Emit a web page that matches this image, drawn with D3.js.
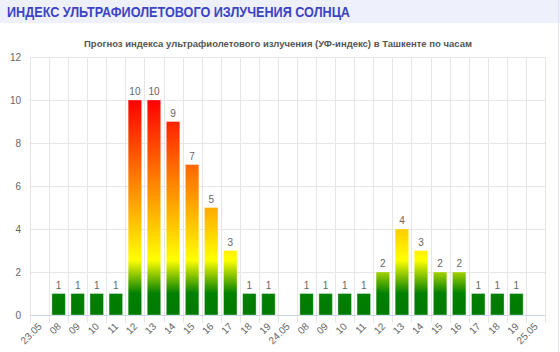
<!DOCTYPE html>
<html>
<head>
<meta charset="utf-8">
<script src="https://cdn.jsdelivr.net/npm/d3@7"></script>
<style>
  body { margin: 0; background: #fff; }
  svg { display: block; font-family: "Liberation Sans", Arial, sans-serif; }
</style>
</head>
<body>
<div id="chart"></div>
<script>
// categories (hour labels, with day separators)
const categories = ['23.05', '08', '09', '10', '11', '12', '13', '14', '15', '16', '17', '18', '19',
                    '24.05', '08', '09', '10', '11', '12', '13', '14', '15', '16', '17', '18', '19', '25.05']
// UV index per hour (null where the day label sits)
const uvValues = [null, 1, 1, 1, 1, 10, 10, 9, 7, 5, 3, 1, 1,
                  null, 1, 1, 1, 1, 2, 4, 3, 2, 2, 1, 1, 1, null]
const yTicks = [0, 2, 4, 6, 8, 10, 12]

const headerTitle = 'ИНДЕКС УЛЬТРАФИОЛЕТОВОГО ИЗЛУЧЕНИЯ СОЛНЦА'
const chartTitle = 'Прогноз индекса ультрафиолетового излучения (УФ-индекс) в Ташкенте по часам'

const width = 560, height = 352
const margin = {top: 57, right: 15, bottom: 37, left: 30}

const svg = d3.select('#chart').append('svg')
    .attr('width', width)
    .attr('height', height)

// header band
svg.append('rect')
    .attr('x', 0).attr('y', 0)
    .attr('width', width).attr('height', 23)
    .attr('fill', '#eef0fb')
svg.append('line')
    .attr('x1', 558.5).attr('x2', 558.5)
    .attr('y1', 0).attr('y2', height)
    .attr('stroke', '#dfe3f5')
svg.append('text')
    .attr('x', 7).attr('y', 17)
    .attr('font-size', 14)
    .attr('font-weight', 'bold')
    .attr('fill', '#3b45c3')
    .attr('textLength', 343)
    .attr('lengthAdjust', 'spacingAndGlyphs')
    .text(headerTitle)

svg.append('text')
    .attr('x', 278).attr('y', 47)
    .attr('text-anchor', 'middle')
    .attr('font-size', 9.5)
    .attr('font-weight', 'bold')
    .attr('fill', '#555')
    .text(chartTitle)

const innerH = height - margin.top - margin.bottom
const g = svg.append('g').attr('transform', `translate(${margin.left},${margin.top})`)

//scales
const xScale = d3.scaleBand()
    .domain(d3.range(categories.length))
    .range([0, width - margin.left - margin.right])
    .paddingInner(0)
const yScale = d3.scaleLinear()
    .domain([0, 12])
    .range([innerH, 0])

// gradient by value, in the bars' user space so colour depends on height
const grad = svg.append('defs').append('linearGradient')
    .attr('id', 'uvGrad')
    .attr('gradientUnits', 'userSpaceOnUse')
    .attr('x1', 0).attr('x2', 0)
    .attr('y1', yScale(0)).attr('y2', yScale(10))
const stops = [[0, '#007a00'], [1, '#008000'], [2.55, '#ffff00'], [5, '#ffaa00'], [7, '#ff6600'], [9, '#ff2200'], [10, '#ff0000']]
stops.forEach(s => grad.append('stop').attr('offset', s[0] / 10).attr('stop-color', s[1]))

// grid lines
g.append('g').selectAll('line.h')
    .data(yTicks.filter(d => d > 0))
    .join('line')
    .attr('x1', 0).attr('x2', xScale.range()[1])
    .attr('y1', d => Math.round(yScale(d)) + 0.5).attr('y2', d => Math.round(yScale(d)) + 0.5)
    .attr('stroke', '#e6e6e6')

const bounds = d3.range(categories.length + 1).map(i => i < categories.length ? xScale(i) : xScale.range()[1])
g.append('g').selectAll('line.v')
    .data(bounds)
    .join('line')
    .attr('x1', d => Math.round(d) + 0.5).attr('x2', d => Math.round(d) + 0.5)
    .attr('y1', 0).attr('y2', innerH + 8)
    .attr('stroke', '#e6e6e6')

// baseline
g.append('line')
    .attr('x1', 0).attr('x2', xScale.range()[1])
    .attr('y1', Math.round(yScale(0)) + 0.5).attr('y2', Math.round(yScale(0)) + 0.5)
    .attr('stroke', '#ccd6eb')

// y labels
g.append('g').selectAll('text')
    .data(yTicks)
    .join('text')
    .attr('x', -9)
    .attr('y', d => yScale(d) + 3.5)
    .attr('text-anchor', 'end')
    .attr('font-size', 10)
    .attr('fill', '#666')
    .text(d => d)

// x labels
g.append('g').selectAll('text')
    .data(categories)
    .join('text')
    .attr('transform', (d, i) => `translate(${xScale(i) + xScale.bandwidth() / 2 + 3},${innerH + 12}) rotate(-45)`)
    .attr('text-anchor', 'end')
    .attr('font-size', 10)
    .attr('fill', '#666')
    .text(d => d)

// bars
const barW = 13.5
const barData = uvValues.map((v, i) => ({i, v})).filter(d => d.v != null)
g.append('g').selectAll('rect')
    .data(barData)
    .join('rect')
    .attr('x', d => xScale(d.i) + (xScale.bandwidth() - barW) / 2)
    .attr('y', d => yScale(d.v))
    .attr('width', barW)
    .attr('height', d => yScale(0) - yScale(d.v))
    .attr('fill', 'url(#uvGrad)')
    .attr('stroke', 'rgba(255,255,255,0.35)')
    .attr('stroke-width', 1)

// value labels
g.append('g').selectAll('text')
    .data(barData)
    .join('text')
    .attr('x', d => xScale(d.i) + xScale.bandwidth() / 2)
    .attr('y', d => yScale(d.v) - 5)
    .attr('text-anchor', 'middle')
    .attr('font-size', 10)
    .attr('fill', '#666')
    .text(d => d.v)
</script>
</body>
</html>
